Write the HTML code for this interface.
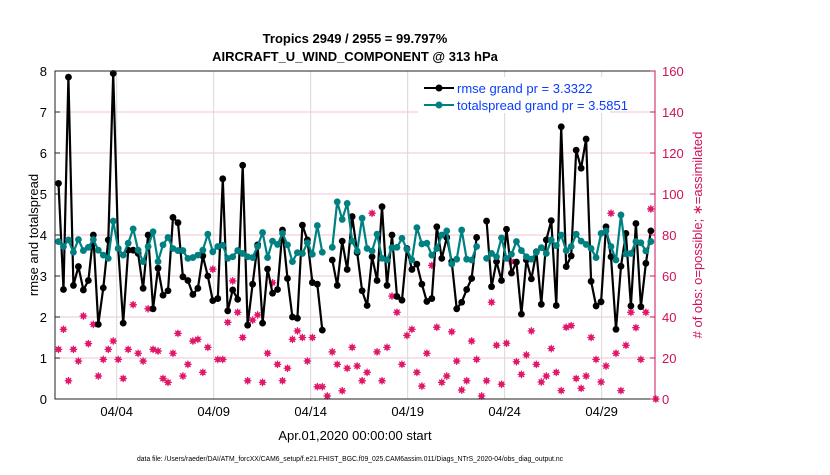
<!DOCTYPE html>
<html><head><meta charset="utf-8">
<style>
body{margin:0;background:#fff;}
svg text{font-family:"Liberation Sans",sans-serif;}
</style></head>
<body>
<svg id="chart" width="830" height="470" viewBox="0 0 830 470" xmlns="http://www.w3.org/2000/svg">
<rect width="830" height="470" fill="#fff"/>
<g id="grid"></g>
<g id="series"></g>
<rect x="55" y="71" width="600" height="328" fill="none" stroke="#222" stroke-width="1"/>
<line x1="655" y1="71" x2="655" y2="399" stroke="#d0105a" stroke-width="1"/>
<g id="axes"></g>
<text x="355" y="43" text-anchor="middle" font-size="13" font-weight="bold">Tropics 2949 / 2955 = 99.797%</text>
<text x="355" y="61" text-anchor="middle" font-size="13" font-weight="bold">AIRCRAFT_U_WIND_COMPONENT @ 313 hPa</text>
<text transform="translate(38,235) rotate(-90)" text-anchor="middle" font-size="13">rmse and totalspread</text>
<text transform="translate(702,235) rotate(-90)" text-anchor="middle" font-size="13" fill="#d0105a"># of obs: o=possible; ∗=assimilated</text>
<text x="355" y="440" text-anchor="middle" font-size="13">Apr.01,2020 00:00:00 start</text>
<text x="350" y="461" text-anchor="middle" font-size="7" textLength="426" lengthAdjust="spacingAndGlyphs">data file: /Users/raeder/DAI/ATM_forcXX/CAM6_setup/f.e21.FHIST_BGC.f09_025.CAM6assim.011/Diags_NTrS_2020-04/obs_diag_output.nc</text>
<g>
<rect x="418" y="77" width="192" height="36" fill="#fff"/>
<line x1="424" y1="88" x2="454" y2="88" stroke="#000" stroke-width="2"/>
<circle cx="439" cy="88" r="3.5" fill="#000"/>
<text x="457" y="93" font-size="13" fill="#0a3cff">rmse grand pr = 3.3322</text>
<line x1="424" y1="105" x2="454" y2="105" stroke="#008080" stroke-width="2"/>
<circle cx="439" cy="105" r="3.5" fill="#008080"/>
<text x="457" y="110" font-size="13" fill="#0a3cff">totalspread grand pr = 3.5851</text>
</g>
</svg>
<script>
const rmse = [5.26,2.67,7.85,2.77,3.23,2.66,2.89,4.0,1.82,2.71,3.88,7.94,3.67,1.85,3.63,3.63,3.55,2.7,4.0,2.2,3.19,2.53,2.64,4.43,4.3,2.98,2.89,2.55,2.7,3.49,3.0,2.4,2.45,5.37,2.15,2.66,2.43,5.7,1.8,2.8,3.76,
1.85,3.17,2.58,2.67,4.12,2.94,2.0,1.97,4.24,3.88,2.84,2.8,1.68,null,3.39,2.77,3.85,3.16,4.45,3.57,2.64,2.28,3.47,2.89,4.69,2.77,4.0,2.5,2.41,3.67,3.16,3.29,2.8,2.38,2.45,4.2,3.43,3.94,3.35,2.2,
2.36,2.67,2.94,3.94,null,4.34,2.74,3.35,2.89,4.14,3.07,3.34,2.07,3.39,2.93,3.59,2.31,3.88,4.35,2.28,6.64,3.23,3.49,6.07,5.63,6.34,2.87,2.27,2.37,4.2,3.47,1.7,3.24,4.04,2.27,4.28,2.25,3.31,4.1,null];
const spread = [3.84,3.72,3.88,3.58,3.89,3.62,3.7,3.89,3.63,3.51,3.43,4.34,3.67,3.51,3.8,4.15,3.63,3.35,3.72,4.08,3.35,3.76,3.94,3.67,3.62,3.62,3.43,3.45,3.51,3.63,4.02,3.59,3.72,3.75,3.43,3.47,3.62,3.55,3.47,3.45,3.72,
4.06,3.45,3.85,3.77,4.04,3.76,3.35,3.57,3.55,3.81,3.53,4.23,3.58,null,3.7,4.81,4.38,4.77,3.85,3.61,4.41,3.67,3.61,4.02,3.43,3.39,3.69,3.7,3.92,3.65,3.39,4.18,3.78,3.8,3.51,3.67,4.0,4.1,3.29,3.41,
4.12,3.41,3.39,3.72,null,3.43,3.55,3.47,3.93,3.43,3.53,3.84,3.62,3.47,3.41,3.58,3.69,3.55,3.88,3.74,4.0,3.62,3.72,4.02,3.85,3.77,3.67,3.45,4.04,4.1,3.72,3.39,4.49,3.54,3.55,3.84,3.81,3.61,3.84,null];
const nobs = [24.2,34,8.9,24.2,18.5,40.5,27,36.4,11.2,19.3,24.2,28.3,19.3,10,24.2,46,22.3,18.5,44,24.2,23.4,10,8.1,22.3,32,11.2,16.9,28.3,29.1,13,25.2,63.3,19.3,19.3,37.4,57.6,42.3,30,8.9,38.5,41,
8.1,22.3,56.7,16.9,8.9,15,29.1,33.2,30,18.5,30,6,6,1.5,23,16.9,4,15,25.2,16.1,8.9,13,90.6,23,8.9,25.2,50.2,42.3,16.9,31,34,13,6.3,22.3,65.2,35,8.1,11.2,32.8,18.5,
4.4,8.9,28.3,19.3,1.5,8.9,47.2,26.2,7.2,27.2,67,18.2,12,21.5,33.2,16.9,8.3,11.2,24.6,13,4.1,35,35.8,10,5.2,11.2,30,19.3,8.3,16.1,90.6,22.3,4.1,26.2,42.3,34.8,19.3,42.3,92.7,0];
const leftTicks = [0,1,2,3,4,5,6,7,8];
const rightTicks = [0,20,40,60,80,100,120,140,160];
const xTickDays = [3,8,13,18,23,28];
const xTickLabels = ["04/04","04/09","04/14","04/19","04/24","04/29"];
const stepDays = 0.2566;

const NS="http://www.w3.org/2000/svg";
const X0=55,X1=655,Y0=399,Y1=71;
const xs = d => X0 + (d+0.18)/(30.75+0.18)*(X1-X0);
const yl = v => Y0 - v/8*(Y0-Y1);
const yr = v => Y0 - v/160*(Y0-Y1);
function mk(tag,attrs,parent){const e=document.createElementNS(NS,tag);for(const k in attrs)e.setAttribute(k,attrs[k]);parent.appendChild(e);return e;}
const grid=document.getElementById('grid'),axes=document.getElementById('axes'),ser=document.getElementById('series');

leftTicks.forEach(v=>{
  if(v>0&&v<8){const g=mk('line',{x1:X0,x2:X1,y1:yl(v),y2:yl(v),stroke:'#f2c6d6','stroke-width':1},grid);
  
  }
  const t=mk('text',{x:X0-8,y:yl(v)+5,'text-anchor':'end','font-size':13},axes);t.textContent=v;
  
  
  const tk=mk('line',{x1:X0,x2:X0+5,y1:yl(v),y2:yl(v),stroke:'#222'},axes);
  
  
});
rightTicks.forEach(v=>{
  const t=mk('text',{x:X1+7,y:yr(v)+5,'font-size':13,fill:'#d0105a'},axes);t.textContent=v;
  
  
  const tk=mk('line',{x1:X1-5,x2:X1,y1:yr(v),y2:yr(v),stroke:'#d0105a'},axes);
  
  
});
xTickDays.forEach((d,i)=>{
  const g=mk('line',{x1:xs(d),x2:xs(d),y1:Y1,y2:Y0,stroke:'#d8d8d8','stroke-width':1},grid);
  
  
  const t=mk('text',{x:xs(d),y:416,'text-anchor':'middle','font-size':13},axes);t.textContent=xTickLabels[i];
  
  
});

// obs markers
nobs.forEach((v,i)=>{
  if(v==null)return;
  const cx=xs(i*stepDays),cy=yr(v);
  const g=mk('g',{},ser);
  
  
  mk('circle',{cx,cy,r:2.6,fill:'#e0186a'},g);
  for(let a=0;a<4;a++){const an=a*Math.PI/4;mk('line',{x1:cx-3.8*Math.cos(an),y1:cy-3.8*Math.sin(an),x2:cx+3.8*Math.cos(an),y2:cy+3.8*Math.sin(an),stroke:'#e0186a','stroke-width':1.2},g);}
});

function drawLine(arr,color,name){
  let d='',pen=false;
  arr.forEach((v,i)=>{ if(v==null){pen=false;return;} d+=(pen?'L':'M')+xs(i*stepDays).toFixed(1)+' '+yl(v).toFixed(1); pen=true;});
  const p=mk('path',{d,fill:'none',stroke:color,'stroke-width':2.2,'stroke-linejoin':'round'},ser);
  
  
  arr.forEach((v,i)=>{ if(v==null)return;
    const c=mk('circle',{cx:xs(i*stepDays),cy:yl(v),r:3.4,fill:color},ser);
    
    
  });
}
drawLine(rmse,'#000','rmse');
drawLine(spread,'#008080','spread');
</script>
</body></html>
